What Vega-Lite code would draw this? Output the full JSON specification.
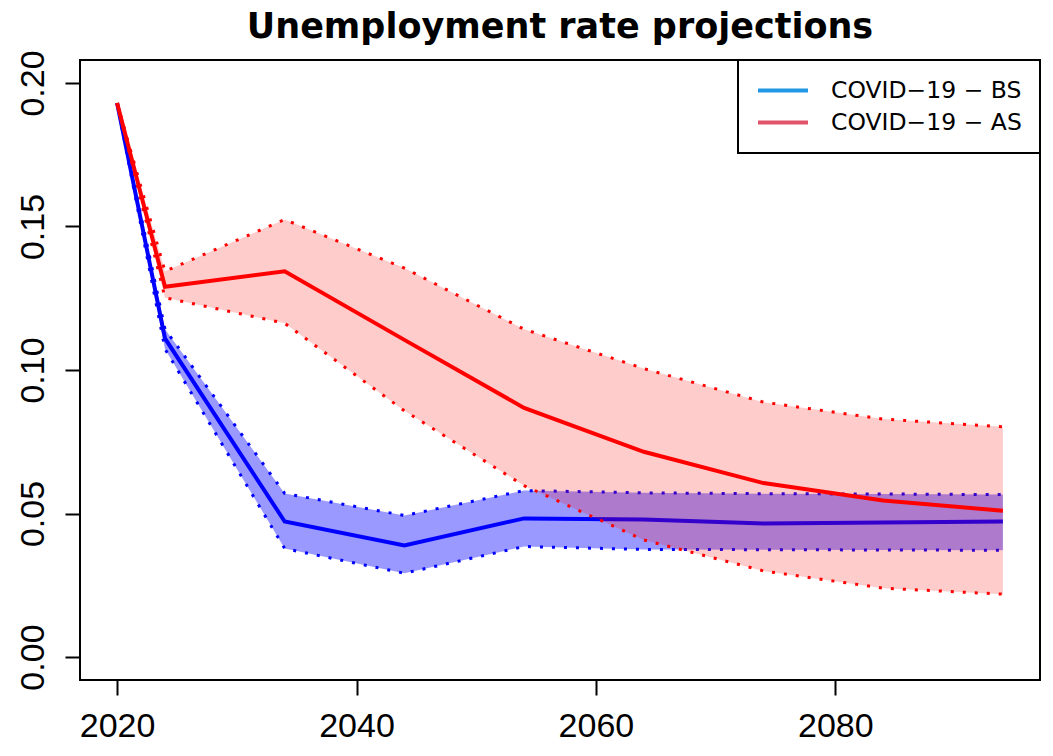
{
  "$schema": "https://vega.github.io/schema/vega-lite/v6.json",
  "width": 960,
  "height": 620,
  "autosize": {"type": "none"},
  "padding": {"left": 80, "top": 60, "right": 13, "bottom": 76},
  "background": "white",
  "title": {
    "text": "Unemployment rate projections",
    "font": "DejaVu Sans",
    "fontSize": 35,
    "fontWeight": "bold",
    "color": "black",
    "anchor": "middle",
    "frame": "group",
    "baseline": "alphabetic",
    "offset": -23
  },
  "config": {
    "view": {"stroke": "black", "strokeWidth": 2},
    "axis": {
      "grid": false,
      "domain": false,
      "ticks": true,
      "tickSize": 15,
      "tickWidth": 2,
      "tickColor": "black",
      "labelFont": "Liberation Sans",
      "labelFontSize": 34,
      "labelColor": "black",
      "labelFlush": false,
      "labelOverlap": false,
      "title": null
    },
    "legend": {
      "orient": "top-right",
      "offset": 0,
      "padding": 18,
      "strokeColor": "black",
      "fillColor": "white",
      "cornerRadius": 0,
      "symbolType": "stroke",
      "symbolSize": 2500,
      "symbolStrokeWidth": 4,
      "symbolOpacity": 1,
      "clipHeight": 25,
      "rowPadding": 7,
      "labelFont": "DejaVu Sans",
      "labelFontSize": 23.5,
      "labelColor": "black",
      "labelOffset": 21,
      "labelLimit": 400,
      "title": null
    }
  },
  "data": {
    "values": [
      {"series": "COVID−19 − BS", "year": 2020, "mid": 0.193, "lo": 0.193, "hi": 0.193},
      {"series": "COVID−19 − BS", "year": 2024, "mid": 0.111, "lo": 0.1073, "hi": 0.1142},
      {"series": "COVID−19 − BS", "year": 2034, "mid": 0.0472, "lo": 0.0378, "hi": 0.057},
      {"series": "COVID−19 − BS", "year": 2044, "mid": 0.0389, "lo": 0.0292, "hi": 0.0493},
      {"series": "COVID−19 − BS", "year": 2054, "mid": 0.0483, "lo": 0.0385, "hi": 0.058},
      {"series": "COVID−19 − BS", "year": 2064, "mid": 0.0479, "lo": 0.0375, "hi": 0.0572},
      {"series": "COVID−19 − BS", "year": 2074, "mid": 0.0465, "lo": 0.0374, "hi": 0.0569},
      {"series": "COVID−19 − BS", "year": 2084, "mid": 0.0469, "lo": 0.0373, "hi": 0.0568},
      {"series": "COVID−19 − BS", "year": 2094, "mid": 0.0472, "lo": 0.0372, "hi": 0.0566},
      {"series": "COVID−19 − AS", "year": 2020, "mid": 0.193, "lo": 0.193, "hi": 0.193},
      {"series": "COVID−19 − AS", "year": 2024, "mid": 0.129, "lo": 0.1252, "hi": 0.1344},
      {"series": "COVID−19 − AS", "year": 2034, "mid": 0.1344, "lo": 0.1163, "hi": 0.1524},
      {"series": "COVID−19 − AS", "year": 2044, "mid": 0.1105, "lo": 0.0858, "hi": 0.1355},
      {"series": "COVID−19 − AS", "year": 2054, "mid": 0.0868, "lo": 0.0597, "hi": 0.1142},
      {"series": "COVID−19 − AS", "year": 2064, "mid": 0.0715, "lo": 0.0408, "hi": 0.1005},
      {"series": "COVID−19 − AS", "year": 2074, "mid": 0.0606, "lo": 0.03, "hi": 0.0888},
      {"series": "COVID−19 − AS", "year": 2084, "mid": 0.0545, "lo": 0.024, "hi": 0.0829},
      {"series": "COVID−19 − AS", "year": 2094, "mid": 0.051, "lo": 0.0219, "hi": 0.0802}
    ]
  },
  "encoding": {
    "x": {
      "field": "year",
      "type": "quantitative",
      "scale": {"domain": [2016.9, 2097.1], "nice": false, "zero": false},
      "axis": {"values": [2020, 2040, 2060, 2080], "format": "d", "labelBaseline": "alphabetic", "labelPadding": 41}
    }
  },
  "layer": [
    {
      "transform": [{"filter": "datum.series === 'COVID−19 − BS'"}],
      "mark": {"type": "area", "color": "#0000FF", "opacity": 0.4},
      "encoding": {
        "y": {
          "field": "lo",
          "type": "quantitative",
          "scale": {"domain": [-0.008, 0.208], "nice": false, "zero": false},
          "axis": {"values": [0, 0.05, 0.1, 0.15, 0.2], "format": ".2f", "labelAngle": 270, "labelAlign": "center", "labelBaseline": "alphabetic", "labelPadding": 22}
        },
        "y2": {"field": "hi"}
      }
    },
    {
      "transform": [{"filter": "datum.series === 'COVID−19 − BS'"}],
      "mark": {"type": "line", "color": "#0000FF", "strokeWidth": 4},
      "encoding": {"y": {"field": "mid", "type": "quantitative"}}
    },
    {
      "transform": [{"filter": "datum.series === 'COVID−19 − BS'"}],
      "mark": {"type": "line", "color": "#0000FF", "strokeWidth": 3, "strokeDash": [3, 9]},
      "encoding": {"y": {"field": "hi", "type": "quantitative"}}
    },
    {
      "transform": [{"filter": "datum.series === 'COVID−19 − BS'"}],
      "mark": {"type": "line", "color": "#0000FF", "strokeWidth": 3, "strokeDash": [3, 9]},
      "encoding": {"y": {"field": "lo", "type": "quantitative"}}
    },
    {
      "transform": [{"filter": "datum.series === 'COVID−19 − AS'"}],
      "mark": {"type": "area", "color": "#FF0000", "opacity": 0.2},
      "encoding": {
        "y": {"field": "lo", "type": "quantitative"},
        "y2": {"field": "hi"}
      }
    },
    {
      "transform": [{"filter": "datum.series === 'COVID−19 − AS'"}],
      "mark": {"type": "line", "color": "#FF0000", "strokeWidth": 4},
      "encoding": {"y": {"field": "mid", "type": "quantitative"}}
    },
    {
      "transform": [{"filter": "datum.series === 'COVID−19 − AS'"}],
      "mark": {"type": "line", "color": "#FF0000", "strokeWidth": 3, "strokeDash": [3, 9]},
      "encoding": {"y": {"field": "hi", "type": "quantitative"}}
    },
    {
      "transform": [{"filter": "datum.series === 'COVID−19 − AS'"}],
      "mark": {"type": "line", "color": "#FF0000", "strokeWidth": 3, "strokeDash": [3, 9]},
      "encoding": {"y": {"field": "lo", "type": "quantitative"}}
    },
    {
      "transform": [{"filter": "datum.year < 0"}],
      "mark": {"type": "line", "strokeWidth": 4},
      "encoding": {
        "y": {"field": "mid", "type": "quantitative"},
        "color": {
          "field": "series",
          "type": "nominal",
          "scale": {"domain": ["COVID−19 − BS", "COVID−19 − AS"], "range": ["#2297E6", "#DF536B"]},
          "legend": {
            "encode": {"legend": {"update": {"strokeWidth": {"value": 2}}}}
          }
        }
      }
    }
  ]
}
